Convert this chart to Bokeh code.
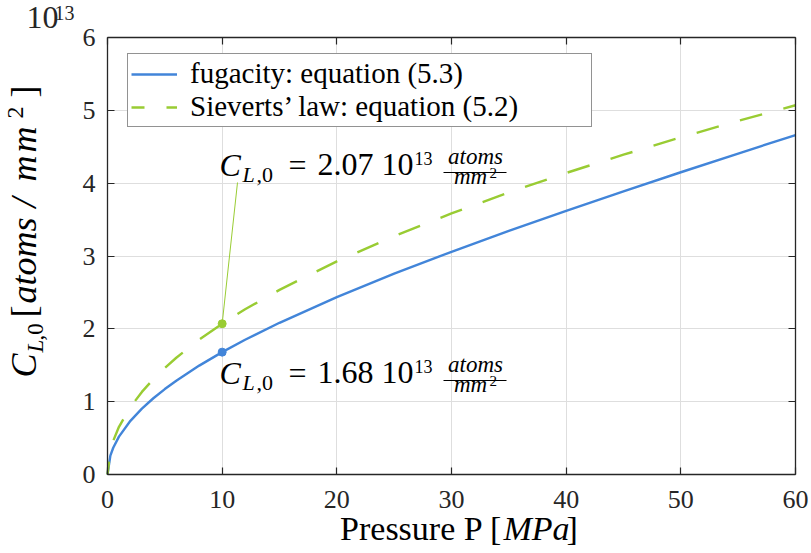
from bokeh.plotting import figure
from bokeh.models import FixedTicker, LinearAxis, Label, Legend, LegendItem, Range1d, Grid
from bokeh.embed import file_html
from bokeh.resources import INLINE
import math

# ---- data (in units of 1e13 atoms/mm^2) ----
pressure = [0, 0.25, 0.5, 1, 2, 3, 4, 5, 6, 8, 10, 12, 15, 20, 25, 30, 35, 40, 45, 50, 55, 60]
fugacity = [0, 0.259, 0.367, 0.520, 0.737, 0.904, 1.047, 1.173, 1.288, 1.495, 1.68, 1.850,
            2.083, 2.436, 2.757, 3.058, 3.345, 3.620, 3.888, 4.150, 4.407, 4.660]
sieverts = [0, 0.327, 0.463, 0.655, 0.926, 1.134, 1.309, 1.464, 1.603, 1.852, 2.07, 2.268,
            2.535, 2.927, 3.273, 3.585, 3.873, 4.140, 4.391, 4.629, 4.855, 5.070]
x_ticks = [0, 10, 20, 30, 40, 50, 60]
y_ticks = [0, 1, 2, 3, 4, 5, 6]
x_lim = (0, 60)
y_lim = (0, 6)
mark_p = 10
mark_fug = 1.68
mark_siev = 2.07
legend_labels = ["fugacity: equation (5.3)", "Sieverts\u2019 law: equation (5.2)"]

BLUE = "#4285d9"
GREEN = "#99cc33"
DARK = "#262626"
FONT = "Liberation Serif"

# layout of the page (pixels): the axes box inside an 811x553 canvas
W_TOT, H_TOT = 811, 553
L, T, FW, FH = 107, 37, 688, 437
sx_unit = FW / (x_lim[1] - x_lim[0])
sy_unit = FH / (y_lim[1] - y_lim[0])

x_range = Range1d(x_lim[0] - L / sx_unit, x_lim[1] + (W_TOT - L - FW) / sx_unit)
y_range = Range1d(y_lim[0] - (H_TOT - T - FH) / sy_unit, y_lim[1] + T / sy_unit)

p = figure(width=W_TOT, height=H_TOT, x_range=x_range, y_range=y_range,
           output_backend="svg", toolbar_location=None,
           min_border_left=0, min_border_right=0, min_border_top=0, min_border_bottom=0)
p.background_fill_color = "white"
p.border_fill_color = "white"
p.outline_line_color = None

def style_axis(ax, ticks, bounds, loc, standoff, show_labels=True):
    ax.ticker = FixedTicker(ticks=ticks)
    ax.bounds = bounds
    ax.fixed_location = loc
    ax.major_tick_in = 7
    ax.major_tick_out = 0
    ax.minor_tick_line_color = None
    ax.axis_line_color = DARK
    ax.axis_line_width = 1.3
    ax.major_tick_line_color = DARK
    ax.major_tick_line_width = 1.2
    ax.major_label_text_font = FONT
    ax.major_label_text_font_size = "26px"
    ax.major_label_text_color = DARK if show_labels else None
    ax.major_label_standoff = standoff

style_axis(p.xaxis[0], x_ticks, x_lim, y_lim[0], 16)
style_axis(p.yaxis[0], y_ticks, y_lim, x_lim[0], 12)
top_ax = LinearAxis()
right_ax = LinearAxis()
style_axis(top_ax, x_ticks, x_lim, y_lim[1], 10, False)
style_axis(right_ax, y_ticks, y_lim, x_lim[1], 10, False)
p.add_layout(top_ax, "above")
p.add_layout(right_ax, "right")

has_cross = "cross_bounds" in Grid.properties()
if has_cross:
    p.xgrid.ticker = FixedTicker(ticks=x_ticks)
    p.ygrid.ticker = FixedTicker(ticks=y_ticks)
    p.xgrid.bounds = x_lim
    p.ygrid.bounds = y_lim
    p.xgrid.cross_bounds = y_lim
    p.ygrid.cross_bounds = x_lim
    for g in (p.xgrid[0], p.ygrid[0]):
        g.grid_line_color = "#dedede"
        g.grid_line_width = 1
else:
    p.xgrid.grid_line_color = None
    p.ygrid.grid_line_color = None
    p.segment(x0=x_ticks, x1=x_ticks, y0=[y_lim[0]] * len(x_ticks), y1=[y_lim[1]] * len(x_ticks),
              line_color="#dedede", line_width=1, level="underlay")
    p.segment(x0=[x_lim[0]] * len(y_ticks), x1=[x_lim[1]] * len(y_ticks), y0=y_ticks, y1=y_ticks,
              line_color="#dedede", line_width=1, level="underlay")

r_fug = p.line(pressure, fugacity, line_color=BLUE, line_width=2.4)
r_siev = p.line(pressure, sieverts, line_color=GREEN, line_width=2.4,
                line_dash="23 22", line_dash_offset=10)

def to_data(sx, sy):
    return x_range.start + sx / sx_unit, y_range.end - sy / sy_unit

# leader line and markers
lx, ly = to_data(237, 182)
p.line([mark_p, lx], [mark_siev, ly], line_color=GREEN, line_width=1)
p.scatter([mark_p], [mark_siev], size=8, color=GREEN)
p.scatter([mark_p], [mark_fug], size=8, color=BLUE)

legend = Legend(items=[LegendItem(label=legend_labels[0], renderers=[r_fug]),
                       LegendItem(label=legend_labels[1], renderers=[r_siev])],
                location=(127, H_TOT - 127))
legend.margin = 0
legend.padding = 3
legend.spacing = 0
legend.label_text_font = FONT
legend.label_text_font_size = "29px"
legend.label_text_color = "black"
legend.label_height = 30
legend.glyph_height = 30
legend.glyph_width = 46
legend.label_standoff = 13
legend.label_width = 398
legend.border_line_color = DARK
legend.border_line_width = 1.2
legend.background_fill_alpha = 1
p.add_layout(legend)

BASE_SHIFT = 0.4  # measured offset of the rendered baseline, in em

def txt(s, sx, sy, size, italic=False, align="left", angle=0.0, color="black"):
    if angle == 0.0:
        sy = sy - BASE_SHIFT * size
    else:
        sx = sx - BASE_SHIFT * size
    x, y = to_data(sx, sy)
    p.add_layout(Label(x=x, y=y, text=s, text_font=FONT, text_font_size=f"{size}px",
                       text_font_style="italic" if italic else "normal",
                       text_align=align, text_baseline="alphabetic",
                       angle=angle, text_color=color))

def annotation(value_text, base):
    txt("C", 219, base, 32, italic=True)
    txt("L", 242, base + 6, 22, italic=True)
    txt(",0", 256, base + 6, 22)
    txt("=", 288, base, 32)
    txt(value_text, 317, base, 32)
    txt("10", 381, base, 32)
    txt("13", 414, base - 12, 18)
    txt("atoms", 475, base - 12, 23, italic=True, align="center")
    txt("mm", 470, base + 8, 23, italic=True, align="center")
    txt("2", 489, base + 1, 15)
    x0, yb = to_data(443, base - 5)
    x1, _ = to_data(506, base - 5)
    p.line([x0, x1], [yb, yb], line_color="black", line_width=1)

annotation("2.07", 177)
annotation("1.68", 385)

# exponent above the y axis
txt("10", 26, 30, 32, color=DARK)
txt("13", 54, 20, 20, color=DARK)

# y axis title (rotated, reading upwards)
ang = math.pi / 2
bx = 38
txt("C", bx, 377, 36, italic=True, angle=ang)
txt("L", bx + 6, 352, 23, italic=True, angle=ang)
txt(",0", bx + 6, 340, 23, angle=ang)
txt("[", bx, 317, 36, angle=ang)
txt("atoms", bx, 303, 36, italic=True, angle=ang)
txt("/", bx, 207, 36, italic=True, angle=ang)
txt("m", bx, 181, 36, italic=True, angle=ang)
txt("m", bx, 152, 36, italic=True, angle=ang)
txt("2", bx - 13, 118, 24, angle=ang)
txt("]", bx, 97, 36, angle=ang)

# x axis title
txt("Pressure P [", 502, 542, 34, align="right")
txt("MPa", 503, 542, 34, italic=True)
txt("]", 566, 542, 34)

open("out.html", "w").write(file_html(p, INLINE))
